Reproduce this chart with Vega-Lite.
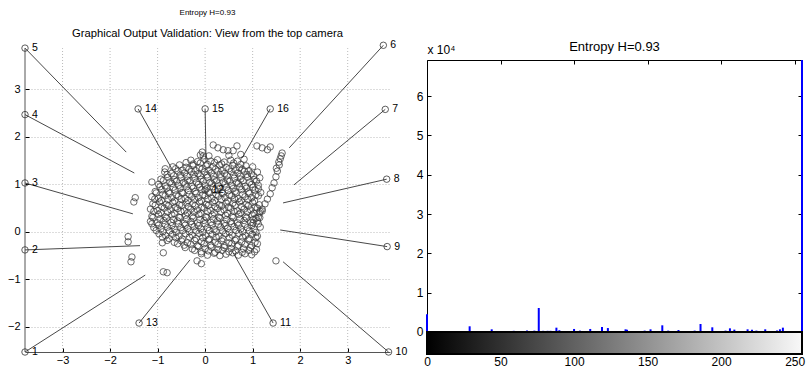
{
  "$schema": "https://vega.github.io/schema/vega-lite/v6.json",
  "padding": {"left": 7, "top": 8, "right": 0, "bottom": 0},
  "config": {
    "font": "Liberation Sans",
    "view": {"stroke": null},
    "axis": {"grid": false, "labelColor": "#000", "tickColor": "#000", "labelFont": "Liberation Sans", "titleFont": "Liberation Sans", "titleColor": "#000", "titleFontWeight": "normal"},
    "title": {"fontWeight": "normal", "color": "#000", "subtitleColor": "#000", "font": "Liberation Sans", "subtitleFont": "Liberation Sans"}
  },
  "title": {
    "text": "Entropy H=0.93",
    "subtitle": "Graphical Output Validation: View from the top camera",
    "anchor": "start", "align": "center", "dx": 200,
    "fontSize": 8, "subtitleFontSize": 11.25, "subtitlePadding": 11, "offset": 1
  },
  "columns": 2,
  "align": "none",
  "spacing": 7,
  "datasets": {
    "vg": [{"g": -3}, {"g": -2}, {"g": -1}, {"g": 0}, {"g": 1}, {"g": 2}, {"g": 3}],
    "frame": [{"x": -3.79, "y0": -2.53, "y1": 3.87}],
    "cams": [
      {"id": "1", "x": -3.79, "y": -2.53, "lx": -1.26, "ly": -0.91},
      {"id": "2", "x": -3.79, "y": -0.38, "lx": -1.37, "ly": -0.29},
      {"id": "3", "x": -3.79, "y": 1.03, "lx": -1.52, "ly": 0.38},
      {"id": "4", "x": -3.79, "y": 2.47, "lx": -1.49, "ly": 1.24},
      {"id": "5", "x": -3.79, "y": 3.87, "lx": -1.66, "ly": 1.68},
      {"id": "6", "x": 3.75, "y": 3.93, "lx": 1.77, "ly": 1.77},
      {"id": "7", "x": 3.79, "y": 2.58, "lx": 1.87, "ly": 0.99},
      {"id": "8", "x": 3.82, "y": 1.11, "lx": 1.64, "ly": 0.61},
      {"id": "9", "x": 3.83, "y": -0.31, "lx": 1.58, "ly": 0.04},
      {"id": "10", "x": 3.86, "y": -2.53, "lx": 1.64, "ly": -0.63},
      {"id": "11", "x": 1.43, "y": -1.92, "lx": 0.59, "ly": -0.44},
      {"id": "12", "x": 0.0, "y": 0.88, "lx": 0.0, "ly": 0.88},
      {"id": "13", "x": -1.39, "y": -1.92, "lx": -0.32, "ly": -0.59},
      {"id": "14", "x": -1.41, "y": 2.59, "lx": -0.69, "ly": 1.31},
      {"id": "15", "x": 0.0, "y": 2.59, "lx": 0.02, "ly": 1.47},
      {"id": "16", "x": 1.37, "y": 2.59, "lx": 0.78, "ly": 1.56}
    ],
    "blob": [
      {"x": -0.08, "y": -0.46}, {"x": 0.05, "y": -0.49}, {"x": 0.19, "y": -0.45}, {"x": 0.31, "y": -0.5}, {"x": 0.44, "y": -0.47}, {"x": 0.58, "y": -0.44}, {"x": 0.7, "y": -0.49}, {"x": 0.84, "y": -0.46}, {"x": 0.98, "y": -0.48},
      {"x": -0.42, "y": -0.33}, {"x": -0.27, "y": -0.36}, {"x": -0.14, "y": -0.31}, {"x": 0.0, "y": -0.35}, {"x": 0.13, "y": -0.32}, {"x": 0.27, "y": -0.37}, {"x": 0.4, "y": -0.33}, {"x": 0.55, "y": -0.35}, {"x": 0.68, "y": -0.31}, {"x": 0.81, "y": -0.36}, {"x": 0.95, "y": -0.33}, {"x": 1.08, "y": -0.37},
      {"x": -0.8, "y": -0.18}, {"x": -0.65, "y": -0.22}, {"x": -0.5, "y": -0.19}, {"x": -0.37, "y": -0.23}, {"x": -0.22, "y": -0.18}, {"x": -0.08, "y": -0.21}, {"x": 0.07, "y": -0.17}, {"x": 0.21, "y": -0.22}, {"x": 0.35, "y": -0.19}, {"x": 0.5, "y": -0.23}, {"x": 0.63, "y": -0.18}, {"x": 0.77, "y": -0.21}, {"x": 0.91, "y": -0.17}, {"x": 1.05, "y": -0.22},
      {"x": -0.97, "y": -0.04}, {"x": -0.83, "y": -0.08}, {"x": -0.69, "y": -0.05}, {"x": -0.55, "y": -0.09}, {"x": -0.41, "y": -0.04}, {"x": -0.27, "y": -0.07}, {"x": -0.13, "y": -0.03}, {"x": 0.01, "y": -0.08}, {"x": 0.15, "y": -0.05}, {"x": 0.29, "y": -0.09}, {"x": 0.43, "y": -0.04}, {"x": 0.57, "y": -0.07}, {"x": 0.71, "y": -0.03}, {"x": 0.85, "y": -0.08}, {"x": 0.99, "y": -0.05}, {"x": 1.1, "y": -0.09},
      {"x": -1.08, "y": 0.09}, {"x": -0.93, "y": 0.06}, {"x": -0.79, "y": 0.1}, {"x": -0.65, "y": 0.05}, {"x": -0.51, "y": 0.09}, {"x": -0.37, "y": 0.07}, {"x": -0.23, "y": 0.11}, {"x": -0.09, "y": 0.06}, {"x": 0.05, "y": 0.09}, {"x": 0.19, "y": 0.05}, {"x": 0.33, "y": 0.1}, {"x": 0.47, "y": 0.07}, {"x": 0.61, "y": 0.11}, {"x": 0.75, "y": 0.06}, {"x": 0.89, "y": 0.09}, {"x": 1.03, "y": 0.05}, {"x": 1.16, "y": 0.1},
      {"x": -1.15, "y": 0.22}, {"x": -1.01, "y": 0.19}, {"x": -0.87, "y": 0.24}, {"x": -0.72, "y": 0.2}, {"x": -0.58, "y": 0.23}, {"x": -0.44, "y": 0.18}, {"x": -0.3, "y": 0.22}, {"x": -0.16, "y": 0.19}, {"x": -0.02, "y": 0.24}, {"x": 0.12, "y": 0.2}, {"x": 0.26, "y": 0.23}, {"x": 0.4, "y": 0.18}, {"x": 0.54, "y": 0.22}, {"x": 0.68, "y": 0.19}, {"x": 0.82, "y": 0.24}, {"x": 0.96, "y": 0.2}, {"x": 1.1, "y": 0.23},
      {"x": -1.12, "y": 0.33}, {"x": -0.98, "y": 0.37}, {"x": -0.84, "y": 0.32}, {"x": -0.7, "y": 0.36}, {"x": -0.55, "y": 0.31}, {"x": -0.41, "y": 0.35}, {"x": -0.27, "y": 0.33}, {"x": -0.13, "y": 0.37}, {"x": 0.01, "y": 0.32}, {"x": 0.15, "y": 0.36}, {"x": 0.29, "y": 0.31}, {"x": 0.43, "y": 0.35}, {"x": 0.57, "y": 0.33}, {"x": 0.71, "y": 0.37}, {"x": 0.85, "y": 0.32}, {"x": 0.99, "y": 0.36}, {"x": 1.12, "y": 0.31},
      {"x": -1.15, "y": 0.48}, {"x": -1.0, "y": 0.45}, {"x": -0.86, "y": 0.5}, {"x": -0.72, "y": 0.46}, {"x": -0.58, "y": 0.49}, {"x": -0.44, "y": 0.44}, {"x": -0.3, "y": 0.48}, {"x": -0.16, "y": 0.46}, {"x": -0.02, "y": 0.5}, {"x": 0.12, "y": 0.45}, {"x": 0.26, "y": 0.49}, {"x": 0.4, "y": 0.46}, {"x": 0.54, "y": 0.5}, {"x": 0.68, "y": 0.44}, {"x": 0.82, "y": 0.48}, {"x": 0.96, "y": 0.46}, {"x": 1.1, "y": 0.5}, {"x": 1.2, "y": 0.44},
      {"x": -1.1, "y": 0.59}, {"x": -0.96, "y": 0.63}, {"x": -0.82, "y": 0.58}, {"x": -0.68, "y": 0.62}, {"x": -0.54, "y": 0.57}, {"x": -0.4, "y": 0.61}, {"x": -0.26, "y": 0.59}, {"x": -0.12, "y": 0.63}, {"x": 0.02, "y": 0.58}, {"x": 0.16, "y": 0.62}, {"x": 0.3, "y": 0.57}, {"x": 0.44, "y": 0.61}, {"x": 0.58, "y": 0.6}, {"x": 0.72, "y": 0.63}, {"x": 0.86, "y": 0.58}, {"x": 1.0, "y": 0.62}, {"x": 1.14, "y": 0.57},
      {"x": -1.12, "y": 0.74}, {"x": -0.98, "y": 0.71}, {"x": -0.84, "y": 0.76}, {"x": -0.7, "y": 0.72}, {"x": -0.56, "y": 0.75}, {"x": -0.42, "y": 0.7}, {"x": -0.28, "y": 0.74}, {"x": -0.14, "y": 0.72}, {"x": 0.0, "y": 0.76}, {"x": 0.14, "y": 0.71}, {"x": 0.28, "y": 0.75}, {"x": 0.42, "y": 0.72}, {"x": 0.56, "y": 0.76}, {"x": 0.7, "y": 0.7}, {"x": 0.84, "y": 0.74}, {"x": 0.98, "y": 0.72}, {"x": 1.12, "y": 0.76},
      {"x": -1.05, "y": 0.85}, {"x": -0.91, "y": 0.89}, {"x": -0.77, "y": 0.84}, {"x": -0.63, "y": 0.88}, {"x": -0.49, "y": 0.83}, {"x": -0.35, "y": 0.87}, {"x": -0.21, "y": 0.85}, {"x": -0.07, "y": 0.89}, {"x": 0.07, "y": 0.84}, {"x": 0.21, "y": 0.88}, {"x": 0.35, "y": 0.83}, {"x": 0.49, "y": 0.87}, {"x": 0.63, "y": 0.85}, {"x": 0.77, "y": 0.89}, {"x": 0.91, "y": 0.84}, {"x": 1.05, "y": 0.88}, {"x": 1.17, "y": 0.83},
      {"x": -0.98, "y": 1.0}, {"x": -0.84, "y": 0.97}, {"x": -0.7, "y": 1.02}, {"x": -0.56, "y": 0.98}, {"x": -0.42, "y": 1.01}, {"x": -0.28, "y": 0.96}, {"x": -0.14, "y": 1.0}, {"x": 0.0, "y": 0.98}, {"x": 0.14, "y": 1.02}, {"x": 0.28, "y": 0.97}, {"x": 0.42, "y": 1.01}, {"x": 0.56, "y": 0.98}, {"x": 0.7, "y": 1.02}, {"x": 0.84, "y": 0.96}, {"x": 0.98, "y": 1.0}, {"x": 1.12, "y": 0.98},
      {"x": -0.93, "y": 1.11}, {"x": -0.79, "y": 1.15}, {"x": -0.65, "y": 1.1}, {"x": -0.51, "y": 1.14}, {"x": -0.37, "y": 1.09}, {"x": -0.23, "y": 1.13}, {"x": -0.09, "y": 1.11}, {"x": 0.05, "y": 1.15}, {"x": 0.19, "y": 1.1}, {"x": 0.33, "y": 1.14}, {"x": 0.47, "y": 1.09}, {"x": 0.61, "y": 1.13}, {"x": 0.75, "y": 1.11}, {"x": 0.89, "y": 1.15}, {"x": 1.03, "y": 1.1}, {"x": 1.15, "y": 1.14},
      {"x": -0.85, "y": 1.26}, {"x": -0.71, "y": 1.23}, {"x": -0.57, "y": 1.28}, {"x": -0.43, "y": 1.24}, {"x": -0.29, "y": 1.27}, {"x": -0.15, "y": 1.22}, {"x": -0.01, "y": 1.26}, {"x": 0.13, "y": 1.24}, {"x": 0.27, "y": 1.28}, {"x": 0.41, "y": 1.23}, {"x": 0.55, "y": 1.27}, {"x": 0.69, "y": 1.24}, {"x": 0.83, "y": 1.28}, {"x": 0.97, "y": 1.22}, {"x": 1.1, "y": 1.26},
      {"x": -0.68, "y": 1.37}, {"x": -0.54, "y": 1.41}, {"x": -0.4, "y": 1.36}, {"x": -0.26, "y": 1.4}, {"x": -0.12, "y": 1.35}, {"x": 0.02, "y": 1.39}, {"x": 0.16, "y": 1.37}, {"x": 0.3, "y": 1.41}, {"x": 0.44, "y": 1.36}, {"x": 0.58, "y": 1.4}, {"x": 0.72, "y": 1.35}, {"x": 0.86, "y": 1.39}, {"x": 1.0, "y": 1.37},
      {"x": -0.3, "y": 1.51}, {"x": -0.16, "y": 1.48}, {"x": -0.02, "y": 1.53}, {"x": 0.12, "y": 1.49}, {"x": 0.26, "y": 1.52}, {"x": 0.4, "y": 1.47}, {"x": 0.54, "y": 1.51}, {"x": 0.68, "y": 1.49}, {"x": 0.82, "y": 1.53},
      {"x": -0.1, "y": 1.62}, {"x": 0.08, "y": 1.6}, {"x": 0.5, "y": 1.61}, {"x": 0.75, "y": 1.63},
      {"x": -0.22, "y": -0.39}, {"x": -0.08, "y": -0.42}, {"x": 0.07, "y": -0.4}, {"x": 0.21, "y": -0.43}, {"x": 0.36, "y": -0.39}, {"x": 0.5, "y": -0.42}, {"x": 0.64, "y": -0.4}, {"x": 0.78, "y": -0.43}, {"x": 0.92, "y": -0.39}, {"x": 1.04, "y": -0.42},
      {"x": -0.58, "y": -0.25}, {"x": -0.44, "y": -0.28}, {"x": -0.3, "y": -0.26}, {"x": -0.16, "y": -0.29}, {"x": -0.02, "y": -0.25}, {"x": 0.12, "y": -0.28}, {"x": 0.27, "y": -0.26}, {"x": 0.41, "y": -0.29}, {"x": 0.56, "y": -0.25}, {"x": 0.7, "y": -0.28}, {"x": 0.84, "y": -0.26}, {"x": 0.98, "y": -0.29}, {"x": 1.1, "y": -0.25},
      {"x": -0.9, "y": -0.11}, {"x": -0.76, "y": -0.14}, {"x": -0.62, "y": -0.12}, {"x": -0.48, "y": -0.15}, {"x": -0.33, "y": -0.11}, {"x": -0.19, "y": -0.14}, {"x": -0.05, "y": -0.12}, {"x": 0.09, "y": -0.15}, {"x": 0.23, "y": -0.11}, {"x": 0.37, "y": -0.14}, {"x": 0.51, "y": -0.12}, {"x": 0.65, "y": -0.15}, {"x": 0.79, "y": -0.11}, {"x": 0.93, "y": -0.14}, {"x": 1.07, "y": -0.12},
      {"x": -1.03, "y": 0.03}, {"x": -0.89, "y": 0.0}, {"x": -0.75, "y": 0.02}, {"x": -0.61, "y": -0.01}, {"x": -0.47, "y": 0.03}, {"x": -0.33, "y": 0.0}, {"x": -0.19, "y": 0.02}, {"x": -0.05, "y": -0.01}, {"x": 0.09, "y": 0.03}, {"x": 0.23, "y": 0.0}, {"x": 0.37, "y": 0.02}, {"x": 0.51, "y": -0.01}, {"x": 0.65, "y": 0.03}, {"x": 0.79, "y": 0.0}, {"x": 0.93, "y": 0.02}, {"x": 1.07, "y": -0.01},
      {"x": -1.12, "y": 0.17}, {"x": -0.98, "y": 0.14}, {"x": -0.84, "y": 0.16}, {"x": -0.7, "y": 0.13}, {"x": -0.56, "y": 0.17}, {"x": -0.42, "y": 0.14}, {"x": -0.28, "y": 0.16}, {"x": -0.14, "y": 0.13}, {"x": 0.0, "y": 0.17}, {"x": 0.14, "y": 0.14}, {"x": 0.28, "y": 0.16}, {"x": 0.42, "y": 0.13}, {"x": 0.56, "y": 0.17}, {"x": 0.7, "y": 0.14}, {"x": 0.84, "y": 0.16}, {"x": 0.98, "y": 0.13}, {"x": 1.12, "y": 0.17},
      {"x": -1.1, "y": 0.3}, {"x": -0.95, "y": 0.27}, {"x": -0.81, "y": 0.29}, {"x": -0.67, "y": 0.26}, {"x": -0.53, "y": 0.3}, {"x": -0.39, "y": 0.27}, {"x": -0.25, "y": 0.29}, {"x": -0.11, "y": 0.26}, {"x": 0.03, "y": 0.3}, {"x": 0.17, "y": 0.27}, {"x": 0.31, "y": 0.29}, {"x": 0.45, "y": 0.26}, {"x": 0.59, "y": 0.3}, {"x": 0.73, "y": 0.27}, {"x": 0.87, "y": 0.29}, {"x": 1.01, "y": 0.26}, {"x": 1.15, "y": 0.3},
      {"x": -1.08, "y": 0.43}, {"x": -0.93, "y": 0.4}, {"x": -0.79, "y": 0.42}, {"x": -0.65, "y": 0.39}, {"x": -0.51, "y": 0.43}, {"x": -0.37, "y": 0.4}, {"x": -0.23, "y": 0.42}, {"x": -0.09, "y": 0.39}, {"x": 0.05, "y": 0.43}, {"x": 0.19, "y": 0.4}, {"x": 0.33, "y": 0.42}, {"x": 0.47, "y": 0.39}, {"x": 0.61, "y": 0.43}, {"x": 0.75, "y": 0.4}, {"x": 0.89, "y": 0.42}, {"x": 1.03, "y": 0.39}, {"x": 1.16, "y": 0.43},
      {"x": -1.05, "y": 0.56}, {"x": -0.91, "y": 0.53}, {"x": -0.77, "y": 0.55}, {"x": -0.63, "y": 0.52}, {"x": -0.49, "y": 0.56}, {"x": -0.35, "y": 0.53}, {"x": -0.21, "y": 0.55}, {"x": -0.07, "y": 0.52}, {"x": 0.07, "y": 0.56}, {"x": 0.21, "y": 0.53}, {"x": 0.35, "y": 0.55}, {"x": 0.49, "y": 0.52}, {"x": 0.63, "y": 0.56}, {"x": 0.77, "y": 0.53}, {"x": 0.91, "y": 0.55}, {"x": 1.05, "y": 0.52},
      {"x": -1.06, "y": 0.69}, {"x": -0.92, "y": 0.66}, {"x": -0.78, "y": 0.68}, {"x": -0.64, "y": 0.65}, {"x": -0.5, "y": 0.69}, {"x": -0.36, "y": 0.66}, {"x": -0.22, "y": 0.68}, {"x": -0.08, "y": 0.65}, {"x": 0.06, "y": 0.69}, {"x": 0.2, "y": 0.66}, {"x": 0.34, "y": 0.68}, {"x": 0.48, "y": 0.65}, {"x": 0.62, "y": 0.69}, {"x": 0.76, "y": 0.66}, {"x": 0.9, "y": 0.68}, {"x": 1.04, "y": 0.65},
      {"x": -1.03, "y": 0.82}, {"x": -0.89, "y": 0.79}, {"x": -0.75, "y": 0.81}, {"x": -0.61, "y": 0.78}, {"x": -0.47, "y": 0.82}, {"x": -0.33, "y": 0.79}, {"x": -0.19, "y": 0.81}, {"x": -0.05, "y": 0.78}, {"x": 0.09, "y": 0.82}, {"x": 0.23, "y": 0.79}, {"x": 0.37, "y": 0.81}, {"x": 0.51, "y": 0.78}, {"x": 0.65, "y": 0.82}, {"x": 0.79, "y": 0.79}, {"x": 0.93, "y": 0.81}, {"x": 1.07, "y": 0.78},
      {"x": -0.95, "y": 0.95}, {"x": -0.81, "y": 0.92}, {"x": -0.67, "y": 0.94}, {"x": -0.53, "y": 0.91}, {"x": -0.39, "y": 0.95}, {"x": -0.25, "y": 0.92}, {"x": -0.11, "y": 0.94}, {"x": 0.03, "y": 0.91}, {"x": 0.17, "y": 0.95}, {"x": 0.31, "y": 0.92}, {"x": 0.45, "y": 0.94}, {"x": 0.59, "y": 0.91}, {"x": 0.73, "y": 0.95}, {"x": 0.87, "y": 0.92}, {"x": 1.01, "y": 0.94}, {"x": 1.12, "y": 0.91},
      {"x": -0.88, "y": 1.08}, {"x": -0.74, "y": 1.05}, {"x": -0.6, "y": 1.07}, {"x": -0.46, "y": 1.04}, {"x": -0.32, "y": 1.08}, {"x": -0.18, "y": 1.05}, {"x": -0.04, "y": 1.07}, {"x": 0.1, "y": 1.04}, {"x": 0.24, "y": 1.08}, {"x": 0.38, "y": 1.05}, {"x": 0.52, "y": 1.07}, {"x": 0.66, "y": 1.04}, {"x": 0.8, "y": 1.08}, {"x": 0.94, "y": 1.05}, {"x": 1.08, "y": 1.07},
      {"x": -0.8, "y": 1.21}, {"x": -0.66, "y": 1.18}, {"x": -0.52, "y": 1.2}, {"x": -0.38, "y": 1.17}, {"x": -0.24, "y": 1.21}, {"x": -0.1, "y": 1.18}, {"x": 0.04, "y": 1.2}, {"x": 0.18, "y": 1.17}, {"x": 0.32, "y": 1.21}, {"x": 0.46, "y": 1.18}, {"x": 0.6, "y": 1.2}, {"x": 0.74, "y": 1.17}, {"x": 0.88, "y": 1.21}, {"x": 1.02, "y": 1.18},
      {"x": -0.62, "y": 1.33}, {"x": -0.48, "y": 1.3}, {"x": -0.34, "y": 1.32}, {"x": -0.2, "y": 1.29}, {"x": -0.06, "y": 1.33}, {"x": 0.08, "y": 1.3}, {"x": 0.22, "y": 1.32}, {"x": 0.36, "y": 1.29}, {"x": 0.5, "y": 1.33}, {"x": 0.64, "y": 1.3}, {"x": 0.78, "y": 1.32}, {"x": 0.92, "y": 1.29},
      {"x": -0.4, "y": 1.46}, {"x": -0.25, "y": 1.43}, {"x": -0.1, "y": 1.45}, {"x": 0.05, "y": 1.42}, {"x": 0.2, "y": 1.46}, {"x": 0.35, "y": 1.43}, {"x": 0.6, "y": 1.45}, {"x": 0.75, "y": 1.42},
      {"x": 0.17, "y": 1.83}, {"x": 0.27, "y": 1.77}, {"x": 0.38, "y": 1.73}, {"x": 0.48, "y": 1.71}, {"x": 0.59, "y": 1.71}, {"x": 0.67, "y": 1.81},
      {"x": 1.09, "y": 1.81}, {"x": 1.2, "y": 1.77}, {"x": 1.31, "y": 1.73}, {"x": 1.37, "y": 1.79}, {"x": -0.06, "y": 1.68}, {"x": -0.04, "y": 1.6},
      {"x": 1.62, "y": 1.66}, {"x": 1.58, "y": 1.54}, {"x": 1.56, "y": 1.41}, {"x": 1.52, "y": 1.28}, {"x": 1.49, "y": 1.16}, {"x": 1.45, "y": 1.03}, {"x": 1.41, "y": 0.93}, {"x": 1.37, "y": 0.8}, {"x": 1.31, "y": 0.69}, {"x": 1.26, "y": 0.59}, {"x": 1.2, "y": 0.48}, {"x": 1.14, "y": 0.4}, {"x": 1.07, "y": 0.29}, {"x": 1.01, "y": 0.19},
      {"x": 1.6, "y": 1.6}, {"x": 1.55, "y": 1.47}, {"x": 1.5, "y": 1.34},
      {"x": -1.47, "y": 0.72}, {"x": -1.5, "y": 0.63}, {"x": -1.62, "y": -0.1}, {"x": -1.62, "y": -0.21}, {"x": -1.54, "y": -0.53}, {"x": -1.56, "y": -0.63},
      {"x": -0.88, "y": -0.84}, {"x": -0.8, "y": -0.86}, {"x": -0.17, "y": -0.61}, {"x": -0.08, "y": -0.67}, {"x": 1.49, "y": -0.61}, {"x": -0.9, "y": -0.23}, {"x": -0.88, "y": -0.44},
      {"x": -1.12, "y": 1.05}, {"x": -0.84, "y": 1.33}
    ],
    "hist": [
      {"v": 0, "n": 4500}, {"v": 29, "n": 1450}, {"v": 44, "n": 680}, {"v": 59, "n": 300}, {"v": 68, "n": 350},
      {"v": 73, "n": 350}, {"v": 76, "n": 6100}, {"v": 79, "n": 300}, {"v": 82, "n": 300}, {"v": 84, "n": 300},
      {"v": 88, "n": 1100}, {"v": 90, "n": 450}, {"v": 100, "n": 770}, {"v": 104, "n": 350}, {"v": 111, "n": 770},
      {"v": 119, "n": 1270}, {"v": 123, "n": 1000}, {"v": 135, "n": 680}, {"v": 136, "n": 600}, {"v": 148, "n": 350},
      {"v": 152, "n": 680}, {"v": 160, "n": 1700}, {"v": 164, "n": 350}, {"v": 171, "n": 500}, {"v": 182, "n": 350},
      {"v": 186, "n": 2040}, {"v": 194, "n": 1190}, {"v": 203, "n": 350}, {"v": 206, "n": 930}, {"v": 209, "n": 600},
      {"v": 218, "n": 680}, {"v": 221, "n": 600}, {"v": 224, "n": 350}, {"v": 230, "n": 680}, {"v": 238, "n": 350},
      {"v": 240, "n": 680}, {"v": 242, "n": 1100}, {"v": 255, "n": 69200}
    ],
    "cbar": [{"x0": 0, "x1": 255, "y0": 0, "y1": -5600}]
  },
  "concat": [
    {
      "width": 365,
      "height": 292,
      "layer": [
        {
          "data": {"name": "vg"},
          "mark": {"type": "rule", "color": "#aaa", "strokeWidth": 0.8, "strokeDash": [1, 2]},
          "encoding": {
            "x": {"field": "g", "type": "quantitative", "scale": {"domain": [-3.79, 3.89], "nice": false, "zero": false},
              "axis": {"values": [-3, -2, -1, 0, 1, 2, 3], "title": null, "grid": false, "tickSize": -4, "labelPadding": 6, "labelFontSize": 11, "domainColor": "#555", "labelFlush": false}},
            "y": {"datum": -2.53, "type": "quantitative", "scale": {"domain": [-2.53, 3.62], "nice": false, "zero": false},
              "axis": {"values": [-2, -1, 0, 1, 2, 3], "title": null, "grid": true, "gridDash": [1, 2], "gridColor": "#aaa", "gridWidth": 0.8, "tickSize": -4, "labelPadding": 9, "labelFontSize": 11, "domain": false}},
            "y2": {"datum": 3.87}
          }
        },
        {
          "data": {"name": "frame"},
          "mark": {"type": "rule", "color": "#555", "strokeWidth": 1},
          "encoding": {
            "x": {"field": "x", "type": "quantitative"},
            "y": {"field": "y0", "type": "quantitative"},
            "y2": {"field": "y1"}
          }
        },
        {
          "data": {"name": "cams"},
          "mark": {"type": "rule", "color": "#333", "strokeWidth": 0.9},
          "encoding": {
            "x": {"field": "x", "type": "quantitative"},
            "y": {"field": "y", "type": "quantitative"},
            "x2": {"field": "lx"},
            "y2": {"field": "ly"}
          }
        },
        {
          "data": {"name": "blob"},
          "mark": {"type": "point", "shape": "circle", "filled": false, "stroke": "#3a3a3a", "strokeWidth": 0.75, "size": 42, "opacity": 1},
          "encoding": {
            "x": {"field": "x", "type": "quantitative"},
            "y": {"field": "y", "type": "quantitative"}
          }
        },
        {
          "data": {"name": "cams"},
          "mark": {"type": "point", "shape": "circle", "filled": false, "stroke": "#333", "strokeWidth": 0.8, "size": 42, "opacity": 1},
          "encoding": {
            "x": {"field": "x", "type": "quantitative"},
            "y": {"field": "y", "type": "quantitative"}
          }
        },
        {
          "data": {"name": "cams"},
          "mark": {"type": "text", "align": "left", "baseline": "middle", "dx": 7, "fontSize": 10.5, "color": "#000"},
          "encoding": {
            "x": {"field": "x", "type": "quantitative"},
            "y": {"field": "y", "type": "quantitative"},
            "text": {"field": "id"}
          }
        }
      ]
    },
    {
      "width": 375,
      "height": 294,
      "view": {"stroke": "#000", "strokeWidth": 1},
      "title": {"text": "Entropy H=0.93", "fontSize": 13, "offset": -10.5},
      "layer": [
        {
          "data": {"name": "hist"},
          "mark": {"type": "rule", "color": "#0000ff", "strokeWidth": 2},
          "encoding": {
            "x": {"field": "v", "type": "quantitative", "scale": {"domain": [0, 255], "nice": false, "zero": false},
              "axis": {"orient": "bottom", "values": [0, 50, 100, 150, 200, 250], "title": null, "domain": false, "tickSize": -4, "labelPadding": 6, "labelFontSize": 12, "labelFlush": false}},
            "y": {"field": "n", "type": "quantitative", "scale": {"domain": [-5600, 69200], "nice": false, "zero": false},
              "axis": {"orient": "left", "values": [0, 10000, 20000, 30000, 40000, 50000, 60000], "labelExpr": "datum.value / 10000", "domain": false, "tickSize": -4, "labelPadding": 8, "labelFontSize": 12,
                "title": "x 10⁴", "titleAngle": 0, "titleAlign": "left", "titleBaseline": "alphabetic", "titleX": 0, "titleY": -7, "titleFontSize": 12}},
            "y2": {"datum": 0}
          }
        },
        {
          "data": {"name": "cbar"},
          "mark": {"type": "rect", "stroke": "#000", "strokeWidth": 2,
            "fill": {"gradient": "linear", "x1": 0, "y1": 0, "x2": 1, "y2": 0, "stops": [{"offset": 0, "color": "#000000"}, {"offset": 1, "color": "#f8f8f8"}]}},
          "encoding": {
            "x": {"field": "x0", "type": "quantitative", "axis": null},
            "x2": {"field": "x1"},
            "y": {"field": "y0", "type": "quantitative", "axis": null},
            "y2": {"field": "y1"}
          }
        },
        {
          "data": {"name": "hist"},
          "mark": {"type": "rule", "opacity": 0},
          "encoding": {
            "x": {"field": "v", "type": "quantitative",
              "axis": {"orient": "top", "values": [0, 50, 100, 150, 200, 250], "title": null, "domain": false, "labels": false, "tickSize": -4}},
            "y": {"field": "n", "type": "quantitative",
              "axis": {"orient": "right", "values": [0, 10000, 20000, 30000, 40000, 50000, 60000], "title": null, "domain": false, "labels": false, "tickSize": -4}}
          }
        }
      ]
    }
  ]
}
